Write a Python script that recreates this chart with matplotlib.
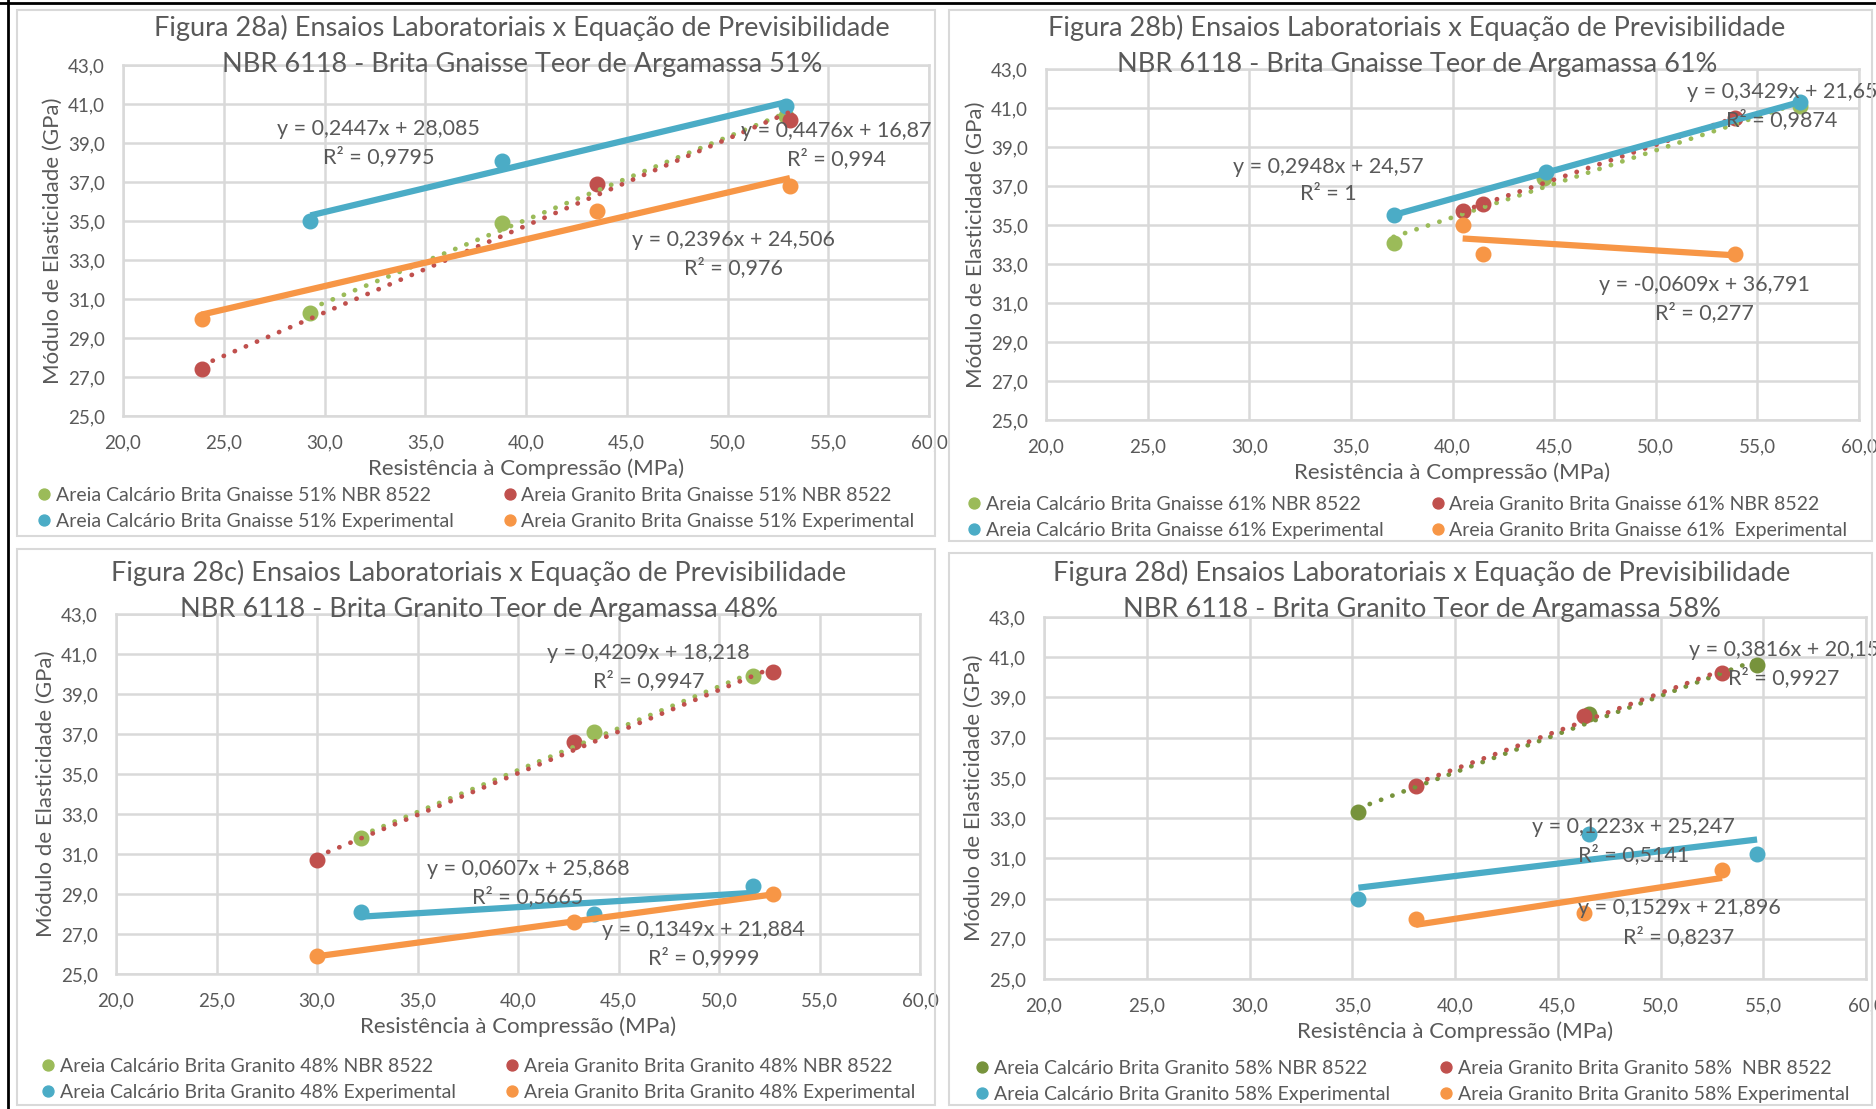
import matplotlib.pyplot as plt
from matplotlib.patches import Rectangle
from matplotlib.lines import Line2D
import numpy as np

plt.rcParams['font.family'] = ['Lato', 'DejaVu Sans']

W, H = 1876, 1109
GREEN, RED, BLUE, ORANGE = '#9BBB59', '#C0504D', '#4BACC6', '#F79646'
DKGREEN = '#77933C'
TXT = '#595959'
GRID = '#D9D9D9'

# ---- data (x = MPa, y = GPa) ----
# Figura 28a - Brita Gnaisse 51%
a_calc_nbr_x = [29.3, 38.8, 52.9]
a_calc_nbr_y = [30.3, 34.9, 40.4]
a_gran_nbr_x = [23.9, 43.5, 53.1]
a_gran_nbr_y = [27.4, 36.9, 40.2]
a_calc_exp_x = [29.3, 38.8, 52.9]
a_calc_exp_y = [35.0, 38.1, 40.9]
a_gran_exp_x = [23.9, 43.5, 53.1]
a_gran_exp_y = [30.0, 35.5, 36.8]

# Figura 28b - Brita Gnaisse 61%
b_calc_nbr_x = [37.1, 44.5, 57.1]
b_calc_nbr_y = [34.1, 37.4, 41.1]
b_gran_nbr_x = [40.5, 41.5, 53.9]
b_gran_nbr_y = [35.7, 36.1, 40.5]
b_calc_exp_x = [37.1, 44.6, 57.1]
b_calc_exp_y = [35.5, 37.7, 41.3]
b_gran_exp_x = [40.5, 41.5, 53.9]
b_gran_exp_y = [35.0, 33.5, 33.5]

# Figura 28c - Brita Granito 48%
c_calc_nbr_x = [32.2, 43.8, 51.7]
c_calc_nbr_y = [31.8, 37.1, 39.9]
c_gran_nbr_x = [30.0, 42.8, 52.7]
c_gran_nbr_y = [30.7, 36.6, 40.1]
c_calc_exp_x = [32.2, 43.8, 51.7]
c_calc_exp_y = [28.1, 28.0, 29.4]
c_gran_exp_x = [30.0, 42.8, 52.7]
c_gran_exp_y = [25.9, 27.6, 29.0]

# Figura 28d - Brita Granito 58%
d_calc_nbr_x = [35.3, 46.5, 54.7]
d_calc_nbr_y = [33.3, 38.2, 40.6]
d_gran_nbr_x = [38.1, 46.3, 53.0]
d_gran_nbr_y = [34.6, 38.1, 40.2]
d_calc_exp_x = [35.3, 46.5, 54.7]
d_calc_exp_y = [29.0, 32.2, 31.2]
d_gran_exp_x = [38.1, 46.3, 53.0]
d_gran_exp_y = [28.0, 28.3, 30.4]

titles = [
    "Figura 28a) Ensaios Laboratoriais x Equação de Previsibilidade\nNBR 6118 - Brita Gnaisse Teor de Argamassa 51%",
    "Figura 28b) Ensaios Laboratoriais x Equação de Previsibilidade\nNBR 6118 - Brita Gnaisse Teor de Argamassa 61%",
    "Figura 28c) Ensaios Laboratoriais x Equação de Previsibilidade\nNBR 6118 - Brita Granito Teor de Argamassa 48%",
    "Figura 28d) Ensaios Laboratoriais x Equação de Previsibilidade\nNBR 6118 - Brita Granito Teor de Argamassa 58%",
]

legends = [
    ["Areia Calcário Brita Gnaisse 51% NBR 8522", "Areia Granito Brita Gnaisse 51% NBR 8522",
     "Areia Calcário Brita Gnaisse 51% Experimental", "Areia Granito Brita Gnaisse 51% Experimental"],
    ["Areia Calcário Brita Gnaisse 61% NBR 8522", "Areia Granito Brita Gnaisse 61% NBR 8522",
     "Areia Calcário Brita Gnaisse 61% Experimental", "Areia Granito Brita Gnaisse 61%  Experimental"],
    ["Areia Calcário Brita Granito 48% NBR 8522", "Areia Granito Brita Granito 48% NBR 8522",
     "Areia Calcário Brita Granito 48% Experimental", "Areia Granito Brita Granito 48% Experimental"],
    ["Areia Calcário Brita Granito 58% NBR 8522", "Areia Granito Brita Granito 58%  NBR 8522",
     "Areia Calcário Brita Granito 58% Experimental", "Areia Granito Brita Granito 58% Experimental"],
]

# trendline equations as printed: (text, x, y)
equations = [
    [("y = 0,2447x + 28,085\nR² = 0,9795", 32.7, 39.0),
     ("y = 0,4476x + 16,87\nR² = 0,994", 55.4, 38.9),
     ("y = 0,2396x + 24,506\nR² = 0,976", 50.3, 33.3)],
    [("y = 0,3429x + 21,65\nR² = 0,9874", 56.2, 41.1),
     ("y = 0,2948x + 24,57\nR² = 1", 33.9, 37.3),
     ("y = -0,0609x + 36,791\nR² = 0,277", 52.4, 31.2)],
    [("y = 0,4209x + 18,218\nR² = 0,9947", 46.5, 40.35),
     ("y = 0,0607x + 25,868\nR² = 0,5665", 40.5, 29.55),
     ("y = 0,1349x + 21,884\nR² = 0,9999", 49.25, 26.5)],
    [("y = 0,3816x + 20,15\nR² = 0,9927", 56.0, 40.65),
     ("y = 0,1223x + 25,247\nR² = 0,5141", 48.7, 31.87),
     ("y = 0,1529x + 21,896\nR² = 0,8237", 50.9, 27.8)],
]

panels = [
    [(a_calc_nbr_x, a_calc_nbr_y), (a_gran_nbr_x, a_gran_nbr_y),
     (a_calc_exp_x, a_calc_exp_y), (a_gran_exp_x, a_gran_exp_y)],
    [(b_calc_nbr_x, b_calc_nbr_y), (b_gran_nbr_x, b_gran_nbr_y),
     (b_calc_exp_x, b_calc_exp_y), (b_gran_exp_x, b_gran_exp_y)],
    [(c_calc_nbr_x, c_calc_nbr_y), (c_gran_nbr_x, c_gran_nbr_y),
     (c_calc_exp_x, c_calc_exp_y), (c_gran_exp_x, c_gran_exp_y)],
    [(d_calc_nbr_x, d_calc_nbr_y), (d_gran_nbr_x, d_gran_nbr_y),
     (d_calc_exp_x, d_calc_exp_y), (d_gran_exp_x, d_gran_exp_y)],
]

# layout in pixels: axes box (l, t, r, b), panel frame, title center, legend left/top
axes_px = [(123, 65, 929, 416), (1046, 69, 1859, 420),
           (116, 614, 920, 974), (1044, 617, 1866, 979)]
frame_px = [(17, 10, 935, 536), (949, 10, 1872, 541),
            (17, 549, 935, 1105), (949, 553, 1872, 1105)]
title_px = [(522, 46), (1417, 46), (479, 591), (1422, 591)]
legend_px = [(38, 487), (968, 496), (42, 1058), (976, 1060)]
colspace = [2.6, 2.5, 2.6, 2.6]

fig = plt.figure(figsize=(W / 100, H / 100), dpi=100)


def fx(px):
    return px / W


def fy(py):
    return 1 - py / H


for f in frame_px:
    fig.patches.append(Rectangle((fx(f[0]), fy(f[3])), fx(f[2] - f[0]), (f[3] - f[1]) / H,
                                 transform=fig.transFigure, fill=False, ec=GRID, lw=1.5))
# black border lines along the top and left edge of the scan
fig.add_artist(Line2D([0, 1], [fy(3), fy(3)], transform=fig.transFigure, color='black', lw=2))
fig.add_artist(Line2D([fx(8), fx(8)], [0, 1], transform=fig.transFigure, color='black', lw=2))


def make_panel(i):
    l, t, r, b = axes_px[i]
    ax = fig.add_axes([fx(l), fy(b), (r - l) / W, (b - t) / H])
    ax.set_xlim(20, 60)
    ax.set_ylim(25, 43)
    ax.set_xticks(np.arange(20, 61, 5))
    ax.set_yticks(np.arange(25, 44, 2))
    ax.set_xticklabels([f"{v:.1f}".replace('.', ',') for v in np.arange(20, 61, 5)])
    ax.set_yticklabels([f"{v:.1f}".replace('.', ',') for v in np.arange(25, 44, 2)])
    ax.tick_params(length=0, labelsize=13.5, colors=TXT, pad=13)
    ax.grid(True, color=GRID, lw=1.8)
    ax.set_axisbelow(True)
    for s in ax.spines.values():
        s.set_color(GRID)
        s.set_linewidth(1.8)
    ax.set_xlabel("Resistência à Compressão (MPa)", fontsize=16, color=TXT, labelpad=5)
    ax.set_ylabel("Módulo de Elasticidade (GPa)", fontsize=16, color=TXT, labelpad=4)

    green = DKGREEN if i == 3 else GREEN
    cols = [green, RED, BLUE, ORANGE]
    handles = []
    for k, (xs, ys) in enumerate(panels[i]):
        xs = np.array(xs)
        ys = np.array(ys)
        h, = ax.plot(xs, ys, 'o', color=cols[k], ms=10.5, zorder=3, label=legends[i][k])
        handles.append(h)
        m, c = np.polyfit(xs, ys, 1)
        xx = np.array([xs.min(), xs.max()])
        if k < 2:
            ax.plot(xx, m * xx + c, color=cols[k], lw=3.4, ls=(0, (0.05, 2.5)),
                    dash_capstyle='round', zorder=4)
        else:
            ax.plot(xx, m * xx + c, color=cols[k], lw=4.5, solid_capstyle='butt', zorder=4)

    for txt, x, y in equations[i]:
        ax.text(x, y, txt, ha='center', va='center', fontsize=15.5, color=TXT,
                linespacing=1.45, zorder=6, clip_on=False)

    tx, ty = title_px[i]
    fig.text(fx(tx), fy(ty), titles[i], ha='center', va='center', fontsize=19.5,
             color=TXT, linespacing=1.55)

    lx, ly = legend_px[i]
    order = [handles[0], handles[2], handles[1], handles[3]]
    leg = fig.legend(order, [h.get_label() for h in order], ncol=2, loc='upper left',
                     bbox_to_anchor=(fx(lx), fy(ly)), frameon=False, fontsize=14,
                     handlelength=0.6, handletextpad=0.3, columnspacing=colspace[i],
                     labelspacing=0.45, borderpad=0, borderaxespad=0, markerscale=0.75)
    for tt in leg.get_texts():
        tt.set_color(TXT)
    return ax


for i in range(4):
    make_panel(i)

fig.savefig('out.png', dpi=100)
